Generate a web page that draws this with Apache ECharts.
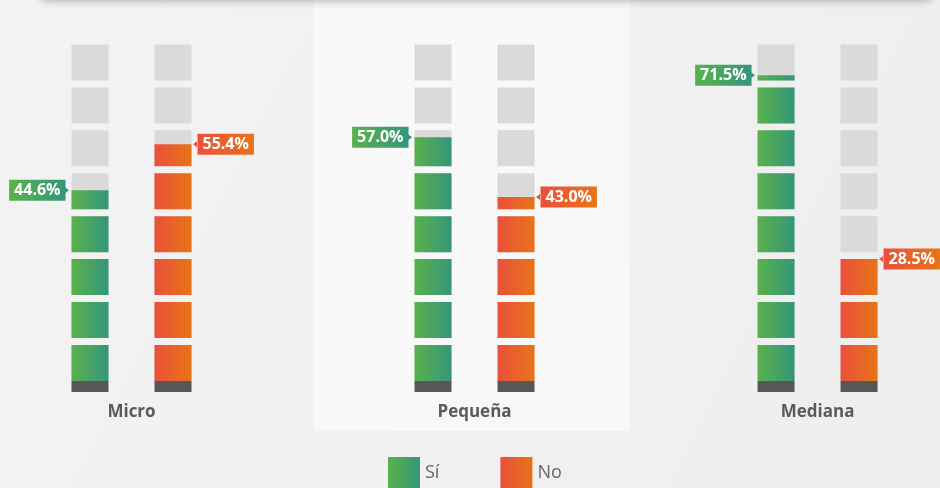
<!DOCTYPE html>
<html>
<head>
<meta charset="utf-8">
<script src="https://cdn.jsdelivr.net/npm/echarts@6/dist/echarts.min.js"></script>
<style>
  html, body { margin: 0; padding: 0; background: #f0f0f0; }
  #main { width: 940px; height: 488px; }
</style>
</head>
<body>
<div id="main"></div>
<script>
// datos
var categories = ['Micro', 'Pequeña', 'Mediana'];
var siValues = [44.6, 57.0, 71.5];
var noValues = [55.4, 43.0, 28.5];
var seriesNames = ['Sí', 'No'];

var TRACK = 78.7;   // alto del fondo gris (8 bloques)
var BASE = -2.6;    // zócalo oscuro bajo cada barra
var OFF = 41.5;     // desplazamiento de cada columna respecto al centro

var green = new echarts.graphic.LinearGradient(0, 0, 1, 0, [
  {offset: 0, color: '#5bb14b'}, {offset: 1, color: '#34967b'}
]);
var orange = new echarts.graphic.LinearGradient(0, 0, 1, 0, [
  {offset: 0, color: '#ea503b'}, {offset: 1, color: '#e77418'}
]);

// [índice de categoría, valor]
function pairs(values) {
  return values.map(function (v, i) { return [i, v]; });
}

function blocks(name, data, offset, color, z, clip) {
  return {
    name: name,
    type: 'pictorialBar',
    symbol: 'rect',
    symbolRepeat: 8,
    symbolSize: [37, 36],
    symbolBoundingData: TRACK,
    symbolClip: clip,
    symbolOffset: [offset, 0],
    barWidth: 37,
    itemStyle: {color: color},
    z: z,
    silent: true,
    data: pairs(data)
  };
}

function base(data, offset) {
  return {
    type: 'pictorialBar',
    symbol: 'rect',
    symbolSize: [37, '100%'],
    symbolOffset: [offset, 0],
    barWidth: 37,
    itemStyle: {color: '#575757'},
    z: 3,
    silent: true,
    data: pairs(data)
  };
}

function tag(data, side, color) {
  return {
    type: 'scatter',
    symbolSize: 0,
    z: 10,
    silent: true,
    itemStyle: {opacity: 1},
    data: pairs(data),
    label: {
      show: true,
      position: side,
      distance: 66,
      formatter: function (p) { return p.value[1].toFixed(1) + '%'; },
      color: '#fff',
      fontFamily: 'Open Sans',
      fontWeight: 'bold',
      fontSize: 16,
      lineHeight: 15,
      padding: [3, 5, 3, 5],
      backgroundColor: color
    }
  };
}

function arrow(data, offset, rot, color) {
  return {
    type: 'scatter',
    symbol: 'triangle',
    symbolSize: [6, 4],
    symbolRotate: rot,
    symbolOffset: [offset, 0],
    itemStyle: {color: color, opacity: 1},
    z: 10,
    silent: true,
    data: pairs(data)
  };
}

var track = categories.map(function () { return TRACK; });
var baseData = categories.map(function () { return BASE; });

var option = {
  backgroundColor: new echarts.graphic.LinearGradient(0, 0, 1, 1, [
    {offset: 0, color: '#f3f3f3'}, {offset: 1, color: '#eeeeee'}
  ]),
  animation: false,
  graphic: [
    {type: 'rect', z: -10, shape: {x: 313, y: 0, width: 317, height: 431}, style: {fill: '#f8f8f8'}},
    {type: 'rect', z: -5, shape: {x: 40, y: -40, width: 892, height: 38, r: 6},
      style: {fill: '#f1f1f1', shadowBlur: 10, shadowOffsetY: 2, shadowColor: 'rgba(0,0,0,0.35)'}}
  ],
  legend: {
    data: seriesNames,
    left: 388,
    top: 457,
    padding: 0,
    icon: 'rect',
    itemWidth: 32,
    itemHeight: 32,
    itemGap: 61,
    selectedMode: false,
    textStyle: {color: '#666', fontFamily: 'Open Sans', fontSize: 18}
  },
  grid: {left: 0, right: 0, top: 39, bottom: 96},
  xAxis: {
    type: 'value',
    min: -0.3834,
    max: 2.357,
    splitLine: {show: false},
    axisLine: {show: false},
    axisTick: {show: false},
    axisLabel: {
      customValues: [0, 1, 2],
      formatter: function (v) { return categories[Math.round(v)]; },
      margin: 12,
      color: '#5a5a5a',
      fontFamily: 'Open Sans',
      fontWeight: 'bold',
      fontSize: 17
    }
  },
  yAxis: {
    type: 'value',
    min: BASE,
    max: 80,
    show: false,
    splitLine: {show: false}
  },
  series: [
    blocks('', track, -OFF, '#dadada', 1, false),
    blocks('', track, OFF, '#dadada', 1, false),
    base(baseData, -OFF),
    base(baseData, OFF),
    blocks('Sí', siValues, -OFF, green, 2, true),
    blocks('No', noValues, OFF, orange, 2, true),
    arrow(siValues, -64.5, -90, '#36977a'),
    arrow(noValues, 63.5, 90, '#ea503b'),
    tag(siValues, 'left', green),
    tag(noValues, 'right', orange)
  ]
};

var chart = echarts.init(document.getElementById('main'), null, {renderer: 'canvas'});
chart.setOption(option);
</script>
</body>
</html>
